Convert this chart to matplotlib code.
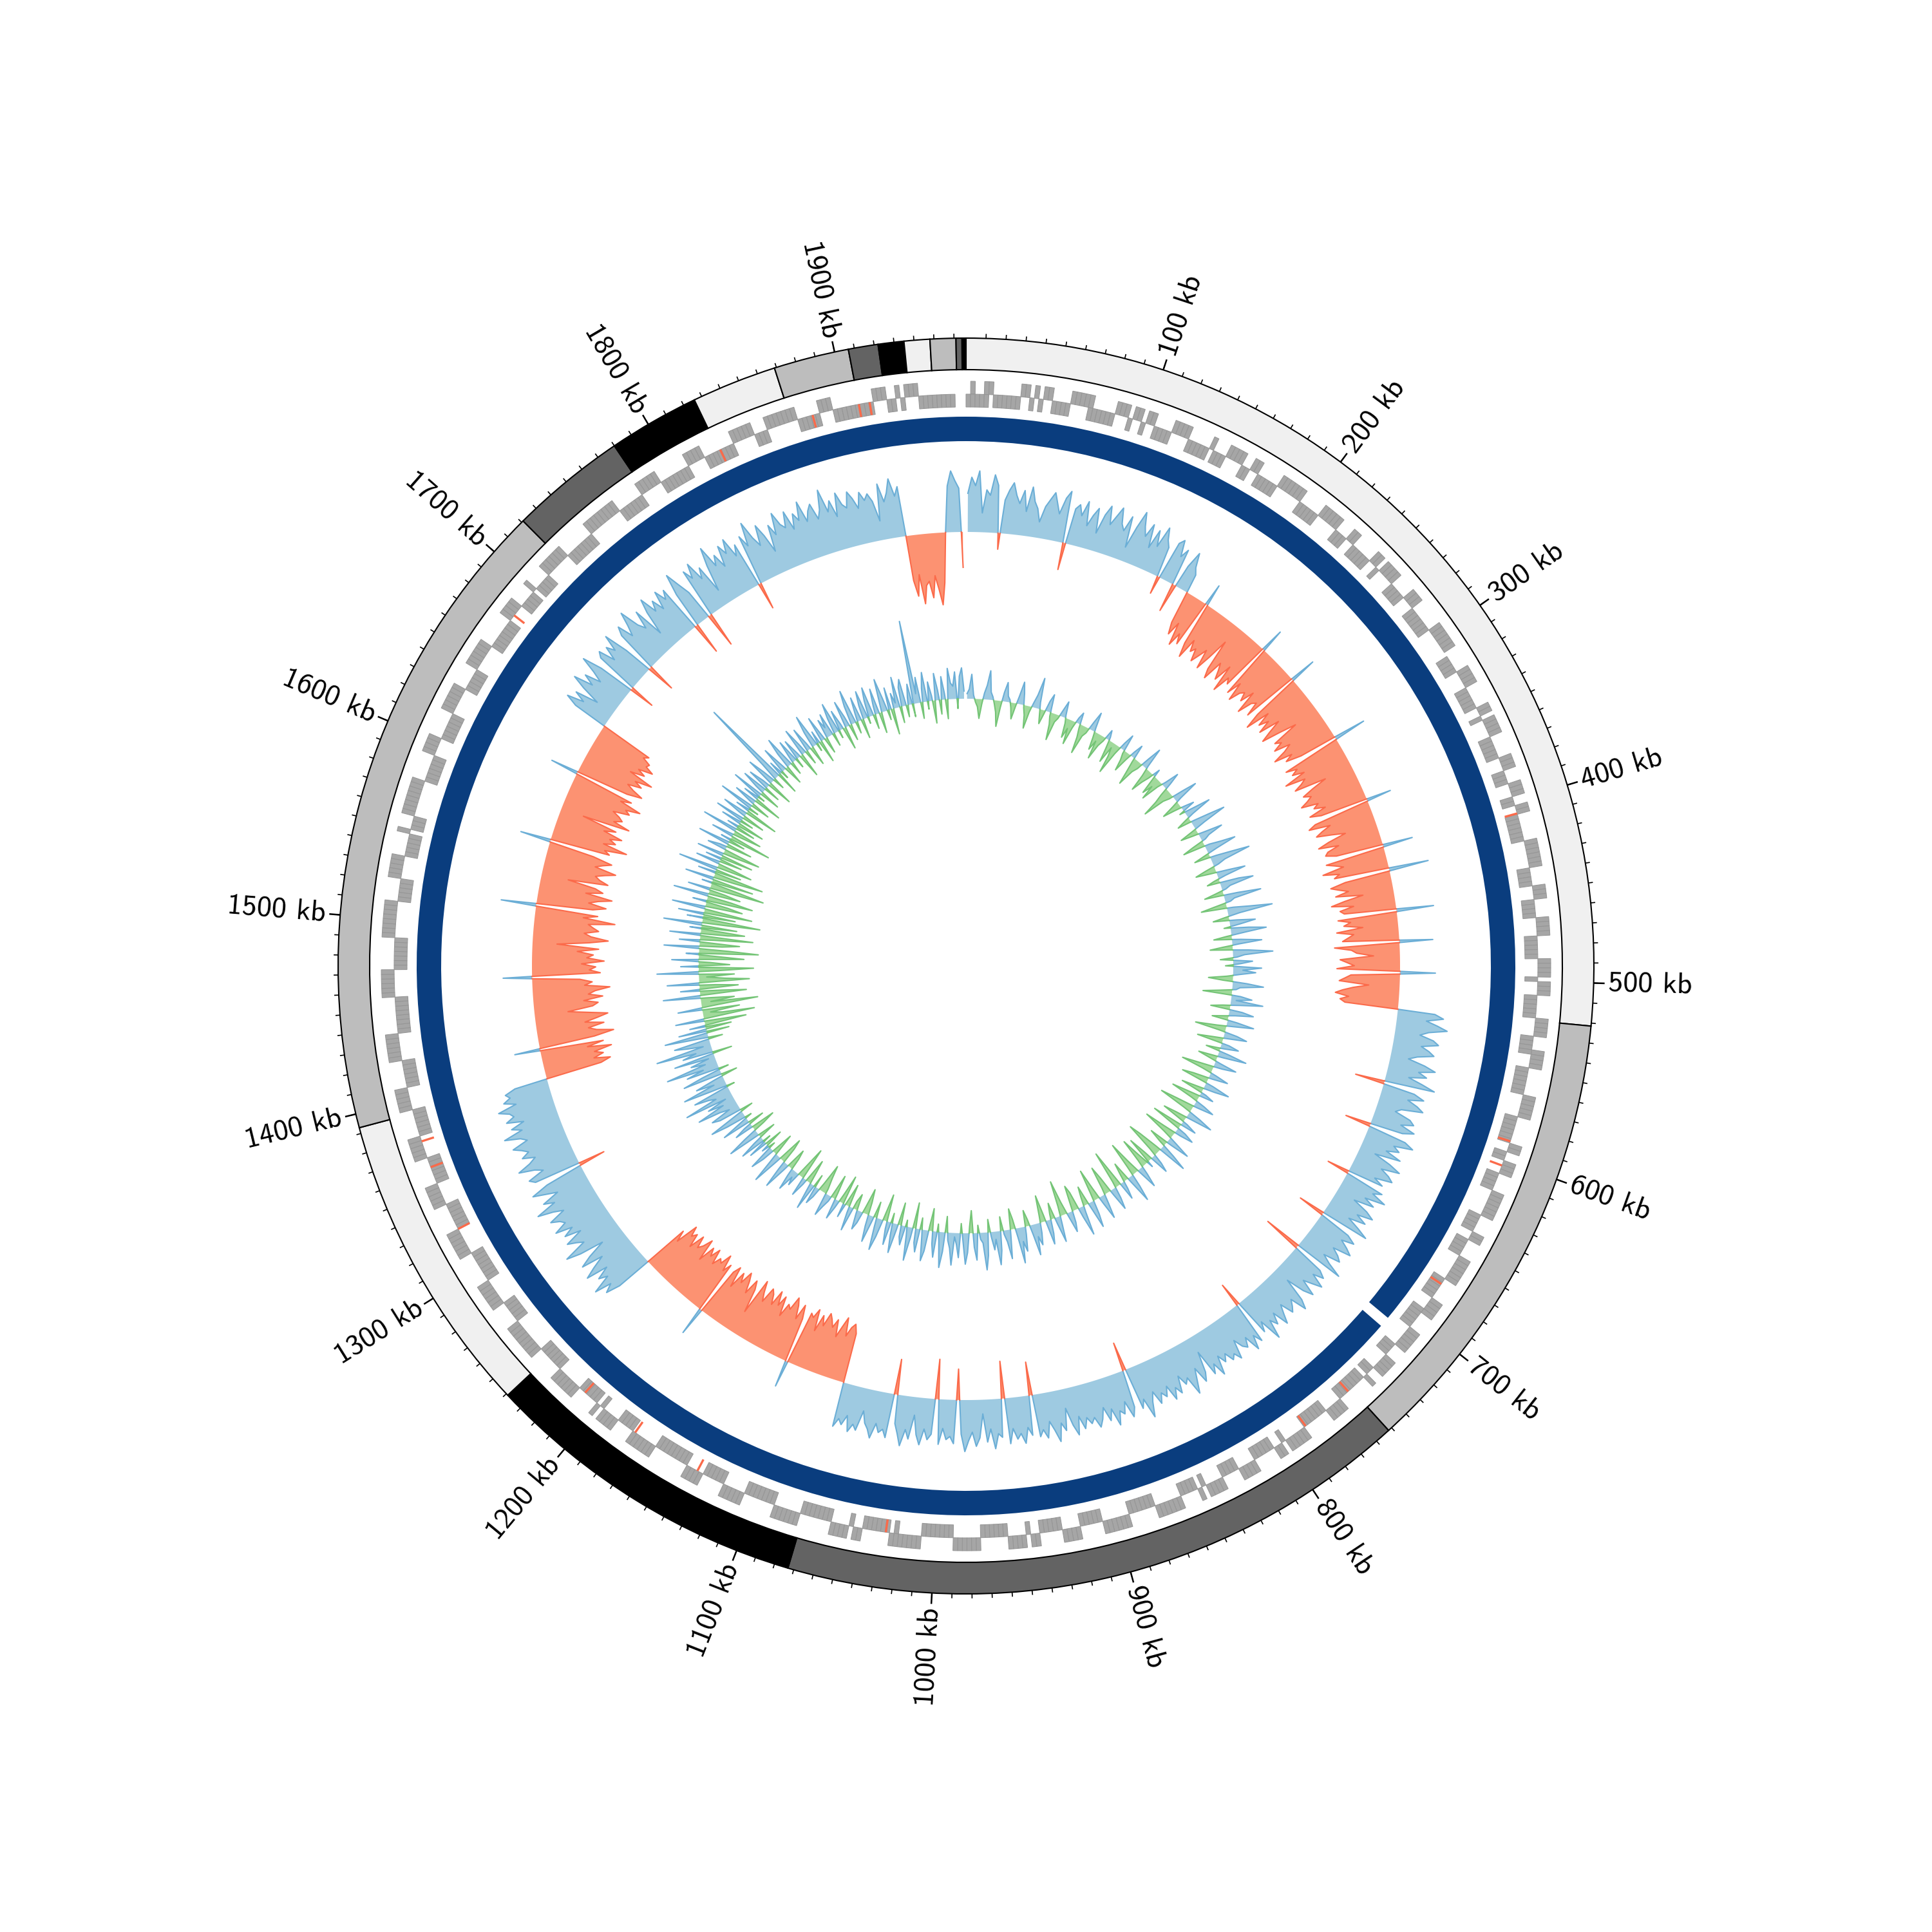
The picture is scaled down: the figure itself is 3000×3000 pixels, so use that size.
import numpy as np
import matplotlib
matplotlib.use('Agg')
import matplotlib.pyplot as plt

# genome length (kb) and contig layout
genome_kb = 1966
contig_starts = [0, 521.5, 752, 1073, 1239, 1393, 1721, 1780, 1826, 1869, 1907, 1922, 1935, 1948, 1961, 1964]
contig_ends = [521.5, 752, 1073, 1239, 1393, 1721, 1780, 1826, 1869, 1907, 1922, 1935, 1948, 1961, 1964, 1966]
contig_colors = ['#f0f0f0', '#bdbdbd', '#636363', '#000000'] * 4

# blue ring (two arcs, gap near 712 kb)
ring_starts = [0, 715]
ring_ends = [709, 1966]

# window size for the data tracks (kb)
win_kb = 2.5

# GC skew per 2.5 kb window, one line = 50 kb (+ outward / - inward)
gc_skew = [
    60, 85, 72, 95, 30, 66, 58, 90, 74, -25, 52, 68, 80, 61, 49, 70, 38, 77, 55, 45,
    25, 50, 62, 74, 58, 43, 69, 81, -42, 56, 64, 48, 72, 35, 53, 66, 28, 59, 75, 47,
    62, 78, 54, 45, 70, 22, 57, 84, 63, 49, 71, 35, 66, 42, 76, 58, 48, -28, 61, 69,
    44, 58, -45, 36, 62, 40, 30, -52, -70, -48, -83, -61, -76, 35, -68, -90, -57, -74, -66, -85,
    -72, -58, -88, -64, -30, -79, -93, -60, -71, -84, -55, -97, -69, -77, 38, -86, -63, -92, -74, -68,
    -81, -59, -95, -72, -66, -88, 42, -76, -101, -63, -85, -70, -91, -58, -79, -96, -67, -40, -83, -74,
    -90, -65, -78, -99, -71, -84, -60, 51, -93, -76, -87, -69, -104, -73, -82, -95, -45, -70, -88, -77,
    -86, -98, -72, -81, -64, -92, -75, 39, -89, -101, -68, -83, -94, -71, -50, -79, -97, -66, -85, -90,
    -74, 47, -93, -80, -68, -102, -77, -86, 62, -71, -95, -83, -69, -90, -48, -78, -99, -65, -87, -81,
    58, -92, -73, -84, -55, -96, -70, -79, -88, 52, -101, -75, -67, -41, -93, -82, -71, -98, 55, -76,
    -85, -94, -48, -72, -88, -99, -78, -91, -83, 58, 72, 46, 64, 80, 52, 39, 61, 70, 44, 57,
    66, 41, 28, 55, 73, 48, 62, 35, 58, 79, -46, 50, 67, 43, 60, 71, 38, 30, 56, 64,
    45, 69, 52, -40, 61, 76, 47, 58, 39, 65, 25, 53, 72, 44, 59, 68, 41, 57, -35, 63,
    50, 74, 43, 61, 30, 56, 70, 46, 64, 38, 59, 77, -42, 52, 67, 48, 62, 73, 45, 58,
    66, 40, 55, 79, -60, 51, 63, 47, 70, 56, 42, 68, 53, 24, 61, 75, 49, 58, 65, 44,
    57, 72, 46, 63, 51, 80, 44, 59, -38, 67, 53, 74, 48, 62, 56, 41, 70, 58, 65, 50,
    61, 47, 76, 54, 68, 26, 58, 71, 45, 63, 82, 52, 60, 43, 69, 57, 74, 49, 64, 55,
    70, 48, 62, 85, 53, 66, -45, 59, 73, 46, 64, 57, 78, 50, 67, 44, 61, 72, 55, 63,
    52, 68, 47, 75, 58, 30, 64, 51, 79, 60, 45, 70, 56, 66, -52, 62, 49, 73, 57, 65,
    48, 71, -58, 60, 54, 77, 46, 66, 22, 59, 72, 50, 63, 80, 53, -48, 68, 57, 62, 45,
    70, -62, 55, 64, 48, 73, 58, 28, 66, 52, 78, 60, 45, -55, 69, 57, 63, 50, 74, 61,
    53, 35, 67, 59, 72, 48, 64, 56, 70, -78, -92, -85, -70, -98, -82, -64, -90, -76, -87, -95,
    -73, -88, -61, -94, -79, -84, 42, -70, -91, -66, -86, -97, -75, -81, -59, -89, -72, -93, -68, -83,
    -90, -65, -78, -95, -37, -74, -87, -62, -80, -92, -71, -85, -57, -89, -77, 45, -83, -69, -94, -76,
    -81, -67, -90, -74, -86, -59, -93, -78, -70, -88, -63, -84, -76, -91, -55, -72, 58, 80, 66, 92,
    62, 75, 54, 88, 70, 49, 83, 64, 35, 73, 95, 58, 68, 81, 52, 77, 60, 86, 65, 71,
    84, 57, 72, 96, 63, 79, 51, 69, 88, 60, -42, 74, 82, 55, 67, 91, 70, 58, 77, 64,
    73, 85, 59, 68, 92, 61, 76, 54, 80, 66, 71, 87, 57, 75, 63, 69, 52, -88, -104, -79,
    -95, -82, -110, -73, -99, 40, -87, -118, -92, -80, -105, -76, -96, -113, -84, -52, -91, -100, -78, -108,
    -86, -97, -120, -81, -93, -74, 45, -106, -89, -99, -77, -112, -85, -95, -70, -103, -38, -88, -117, -90,
    -79, -101, -92, -84, -125, -75, -97, 55, -88, -108, -80, -94, -115, -73, -99, -86, -42, -104, -90, -82,
    -96, -112, -78, -89, -102, -71, 48, -94, -85, -119, -80, -98, -87, -105, -74, -92, -36, -110, -83, -95,
    -88, -76, -101, -93, -115, -80, -96, 44, -84, -107, -90, -78, -99, -86, -112, -72, -94, -81, -103, -89,
    -92, -78, -85, 55, 74, 48, 66, 30, 60, 82, 52, 70, 45, 63, 88, 57, -40, 68, 76, 50,
    72, 59, 84, 46, -45, 67, 80, 55, 71, 92, 61, 49, 77, 28, 65, 86, 58, 73, 53, 81,
    62, 75, -50, 57, 90, 68, 48, -55, 79, 63, 85, 54, 70, 25, 66, 94, 59, 74, 51, 83,
    67, 88, 56, 72, -42, 80, 61, 97, 69, 53, 84, 64, 35, 76, 58, 91, 70, 62, 86, 55,
    78, 65, 93, 59, 74, 83, 57, 70, 100, 63, 79, 52, 88, 68, 61, 85, 73, 56, 80, 66,
    75, 62, 30, 87, 58, 71, 92, 64, 78, -70, -95, -62, -108, -80, -74, -100, -66, -88, -112, -78,
    0, 72, 95, 80, 68, -55,
]

# GC content deviation per 2.5 kb window, one line = 50 kb
gc_content = [
    8, 15, 38, 6, -5, -12, -30, -8, 10, 22, 45, 12, 5, -6, -18, -40, -10, 14, 30, 9,
    4, -8, -25, -6, 12, 35, 18, -4, -15, -35, -9, 6, 20, 48, 10, -7, -22, -5, 16, 28,
    -6, -18, -42, -12, -5, 10, 25, 4, -8, -30, -14, -38, -10, 8, 18, -6, -20, -45, -15, -8,
    12, 30, 6, -10, -28, -12, -40, -16, -6, 15, 5, -14, -35, -8, -22, -48, -12, 10, 26, -5,
    -15, -32, -10, 8, 22, -6, -25, -44, -18, -9, 14, 35, 5, -12, -38, -20, -8, 12, -10, -30,
    -14, -36, -8, 6, 28, 10, -12, -26, -50, -16, -6, 18, 40, 8, -10, -30, -12, 5, 20, -8,
    15, 42, 10, -8, -22, 6, 30, 55, 18, -5, -28, -10, 12, 38, 14, 6, -18, -35, 8, 25,
    48, 16, -6, -25, 10, 35, 62, 20, 8, -15, -32, -10, 18, 45, 12, -8, -20, 30, 52, 14,
    6, -12, -30, 22, 58, 15, 8, -18, -40, 10, 36, 70, 18, -6, -25, 12, 40, 16, -10, 28,
    55, 20, -8, -28, 14, 46, 10, -15, -35, 25, 62, 18, 6, -20, 30, 12, -12, 44, 15, 35,
    10, -10, -38, -15, 22, 48, 12, 6, -20, -45, 14, 32, 8, 50, 15, -12, -30, 20, 38, 10,
    -8, -25, 15, 42, 12, -15, -48, -10, 20, 36, 8, -18, -40, 12, 28, 6, -22, 16, 45, 10,
    -30, -12, 8, 35, 14, -20, -50, -15, 10, 30, 6, -25, -42, 12, 40, 18, -10, -35, 8, 22,
    -15, -45, -10, 15, 32, 6, -28, -55, -12, 20, 42, 10, -18, -38, 8, 25, -12, -48, 14, 30,
    10, -20, -52, -15, 12, 38, 8, -30, -10, 22, 46, -8, -40, -58, -12, 16, 30, -15, -42, 10,
    -18, -48, -12, 14, 34, 6, -22, -55, -15, 20, 44, 8, -30, -12, 12, 28, -20, -60, -10, 18,
    35, 8, -25, -45, -10, 15, 38, 12, -18, -50, -12, 22, 42, 6, -30, -14, 10, 46, 15, -28,
    -40, -12, 18, 32, 6, -20, -55, -15, 12, 40, 10, -25, -8, 22, 38, -10, -42, -12, 16, 34,
    20, 48, 15, -10, -25, 12, 38, 22, 55, 14, -15, -32, 8, 45, 18, 6, -22, 30, 52, 12,
    28, 8, -20, 36, 58, 16, 10, -12, 42, 22, -35, -10, 30, 48, 14, -15, 38, 18, 6, 50,
    24, 12, -25, 30, 55, 15, -12, 40, 20, -35, -8, 32, 48, 10, -18, 36, 22, -40, 16, 52,
    14, -10, 30, 18, -35, 8, 46, 20, -15, 36, 12, -42, -8, 28, 50, 15, -25, 10, 42, 18,
    -20, -40, -10, 18, 30, 6, -25, -12, 38, 10, -35, -8, 22, -45, -15, 12, 32, -10, -38, 8,
    20, 36, -8, -25, -45, -12, 15, 28, -20, 42, 12, -15, -38, 8, 30, -12, -50, -16, 22, 10,
    35, 12, -18, -32, 10, 45, 14, -25, -40, 8, 50, 16, -12, -35, 20, 40, -10, 12, -28, 30,
    -12, 40, 14, -28, 8, 52, 22, -18, -38, 30, 12, -25, 45, 16, -10, 32, 58, 15, -20, 36,
    48, 15, 30, 65, 20, 44, 12, 78, 25, 36, 58, -12, 28, 70, 18, 46, 14, -25, 62, 30,
    -15, 52, 24, 82, 18, 40, 10, 64, -30, 48, 26, 88, 12, 36, 56, -22, 20, 68, -35, 44,
    -40, 25, -65, -18, 45, -80, -30, -12, -58, 38, -22, -88, -15, -52, -10, 58, -72, -35, 30, -60,
    -25, 50, -78, -40, -12, -55, 65, -32, -85, 28, -48, -18, 42, -70, -30, 20, -92, -45, 55, -35,
    -62, 32, -22, -82, 48, -42, -68, 18, -55, 60, -30, -90, 25, -50, 40, -75, -20, 52, -58, -35,
    22, -72, -38, 55, -50, -25, 35, -85, -45, 16, -65, 45, -32, -78, 28, -40, 62, -55, -20, 38,
    -35, 25, -50, 42, -22, -58, 30, 12, -40, 50, -25, 16, -65, 35, -12, -45, 56, -30, 18, -42,
    32, -20, 46, -35, 10, 40, -52, 22, -15, 55, -30, 8, 36, -44, 25, -10, 50, -32, 14, 40,
    -25, 35, 12, -40, 46, 20, -18, 30, 140, -35, 22, -12, 42, 8, -30, 25, 50, -20, 10, 36,
    -15, 32, 6, -38, 44, 16, -22, 38, 10, -30, 26, 52, -12, 20, -35, 40, 8, -25, 30, 15,
    36, -20, 25, 48, -12, 32, 8, -35, 42, 16, -25, 30, 54, -18, 12, 38, -30, 22, 44, -10,
    26, 46, -22, 14, 40, -32, 10, 52, 20, -15, 35, -40, 24, 8, 48, -25, 30, 42, -18, 12,
    32, -20, 130, 15, 40, -25, 22, 46, -12, 30, 8, -35, 42, 16, -22, 36, 10, -30, 48, 25,
    20, 42, -15, 35, 48, 12,
]

# genes per 2.5 kb window, one string = 50 kb
# o = outer strand, i = inner strand, b = both, . = none
gene_rows = [
    "ibiiboiiiiiiooioiooi",
    "iiioooobiiiiioooiooi",
    "ooiiiiooooiiiiioiiio",
    "oooiiooiiiiiooooooii",
    "iiioooooiiiooiiiiioo",
    "iooooiiiioooiiiiiioo",
    "oooo.iiiiooooiiiiioo",
    "iooooiiiiioooiiioooi",
    "iooiiiiiiooooooiiiio",
    "ooiiiiooooiiiiiooooi",
    "oooiiiiiooooiiiboooi",
    "iiiiioooooiiiiiiooii",
    "oooiiiiooooooiiiiooi",
    "iiiooooooiiiiiooobii",
    "iioooooiiiooooiioiii",
    "iiiiooooiiiiiioooooi",
    "ooiiiiiooooiiiiooooi",
    "oiiiiooooooiiiiiiooo",
    "oooiiiiiooooiiiiiooi",
    "ooooiiiiiiooooooiiii",
    "iiioooooboiiiiiiooio",
    "oooiiiiiiiooooooiiii",
    "iiioooooiiiiiooooiii",
    "iiiiiooooooiiiiooooi",
    "oiiiiiooooooiiiiiioo",
    "ooooooiiiiiooooooiii",
    "iiiiooooooiiiiiioooo",
    "oiiiiiioooooiiiiiioo",
    "oooiiiiiiooooooiiiii",
    "iiiooooooiiiiiiioooo",
    "ooooiiiiioooooiiiiio",
    "iiiooooooooiiiiiiooo",
    "oiiiiiiooooooiiiiioo",
    "ooooiiiiiiiooooiiiio",
    "iiiiooooooiiiiiiiooo",
    "oooooiiiiiioooooiiii",
    "iiiooooiiiiiiioooooi",
    "iioooooooiiiiioooiii",
    "iiiiiioooiioioooiiii",
    "iiii..",
]

# RNA genes (kb) drawn in red on the inner strand
rna_genes = [407, 589, 603, 676, 754, 784, 1027, 1136, 1176, 1211, 1325, 1362, 1377, 1681, 1827, 1881, 1907, 1913]

tick_labels = [f'{k} kb' for k in range(100, 2000, 100)]


def to_theta(kb):
    return np.asarray(kb, dtype=float) / genome_kb * 2 * np.pi


def split_sign(th, v):
    # add zero crossings so positive and negative parts meet on the baseline
    xs, ys = [th[0]], [v[0]]
    for i in range(1, len(v)):
        if v[i - 1] * v[i] < 0:
            t = v[i - 1] / (v[i - 1] - v[i])
            xs.append(th[i - 1] + t * (th[i] - th[i - 1]))
            ys.append(0.0)
        xs.append(th[i])
        ys.append(v[i])
    return np.array(xs), np.array(ys, dtype=float)


def signed_track(ax, values, base, pos_fill, pos_line, neg_fill, neg_line):
    centers = (np.arange(len(values)) + 0.5) * win_kb
    xs, ys = split_sign(to_theta(centers), np.array(values, dtype=float))
    ax.fill_between(xs, base, base + ys, where=ys >= 0, color=pos_fill, lw=0)
    ax.fill_between(xs, base, base + ys, where=ys <= 0, color=neg_fill, lw=0)
    ax.plot(xs, np.where(ys >= 0, base + ys, np.nan), color=pos_line, lw=0.5)
    ax.plot(xs, np.where(ys <= 0, base + ys, np.nan), color=neg_line, lw=0.5)


fig = plt.figure(figsize=(10, 10), dpi=300)
ax = fig.add_axes([0, 0, 1, 1], projection='polar')
ax.set_theta_zero_location('N')
ax.set_theta_direction(-1)
ax.set_ylim(0, 1500)
ax.set_axis_off()

# contigs ring
for s, e, c in zip(contig_starts, contig_ends, contig_colors):
    ax.bar(to_theta(s), 49, width=to_theta(e - s), bottom=926, align='edge',
           color=c, edgecolor='black', linewidth=0.5)

# ticks and labels
minor = np.arange(10, genome_kb, 10)
ax.vlines(to_theta(minor), 975, 982, color='black', lw=0.4)
major = np.arange(100, 2000, 100)
ax.vlines(to_theta(major), 975, 992, color='black', lw=0.6)
for k, lab in zip(major, tick_labels):
    th = to_theta(k)
    deg = np.degrees(th)
    if deg < 180:
        rot, ha = 90 - deg, 'left'
    else:
        rot, ha = 270 - deg, 'right'
    ax.text(th, 998, lab, rotation=rot, rotation_mode='anchor', ha=ha, va='center',
            fontsize=11, family=['cmss10', 'DejaVu Sans'])

# genes
w = to_theta(win_kb)
for line_no, row in enumerate(gene_rows):
    for j, ch in enumerate(row):
        th = to_theta(line_no * 50 + j * win_kb)
        if ch in 'ob':
            ax.bar(th, 20, width=w, bottom=888, align='edge', color='#a6a6a6',
                   edgecolor='#969696', linewidth=0.25)
        if ch in 'ib':
            ax.bar(th, 20, width=w, bottom=868, align='edge', color='#a6a6a6',
                   edgecolor='#969696', linewidth=0.25)
ax.bar(to_theta(rna_genes), 20, width=to_theta(1.2), bottom=868, align='center',
       color='#fb6a4a', linewidth=0)

# dark blue ring
for s, e in zip(ring_starts, ring_ends):
    ax.bar(to_theta(s), 38, width=to_theta(e - s), bottom=815, align='edge',
           color='#0a3d7e', linewidth=0)

# GC skew and GC content tracks
signed_track(ax, gc_skew, 674, '#9ecae1', '#6baed6', '#fc9272', '#fb6a4a')
signed_track(ax, gc_content, 415, '#9ecae1', '#6baed6', '#a1d99b', '#74c476')

fig.savefig('out.png', dpi=300)
